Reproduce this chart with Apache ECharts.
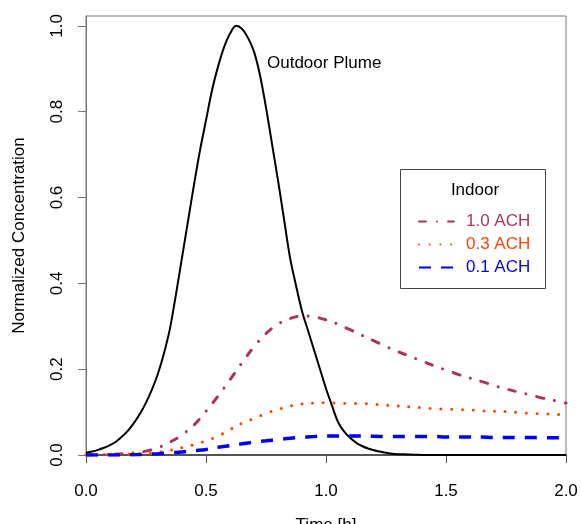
<!DOCTYPE html>
<html>
<head>
<meta charset="utf-8">
<script src="https://cdn.jsdelivr.net/npm/echarts@6/dist/echarts.min.js"></script>
<style>
  html, body { margin: 0; padding: 0; background: #fff; }
  #main { width: 581px; height: 524px; }
</style>
</head>
<body>
<div id="main"></div>
<script>
// time in hours, outdoor plume is read finer around its peak
var plumeTimes = [0, 0.025, 0.05, 0.075, 0.1, 0.125, 0.15, 0.175, 0.2, 0.225, 0.25, 0.275, 0.3, 0.325, 0.35, 0.375, 0.4, 0.425,
  0.45, 0.475, 0.5, 0.525, 0.55, 0.575, 0.6, 0.625, 0.65, 0.675, 0.7, 0.725, 0.75, 0.775, 0.8, 0.825, 0.85, 0.875, 0.9,
  0.925, 0.95, 0.975, 1.0, 1.025, 1.05, 1.075, 1.1, 1.125, 1.15, 1.175, 1.2, 1.225, 1.25, 1.275, 1.3, 1.325, 1.35, 1.375, 1.4,
  1.5, 1.6, 1.7, 1.8, 1.9, 2.0];
var outdoor = [0.005, 0.008, 0.012, 0.017, 0.023, 0.031, 0.043, 0.057, 0.075, 0.096, 0.122, 0.153, 0.19, 0.237, 0.295, 0.375, 0.46, 0.545,
  0.63, 0.71, 0.78, 0.85, 0.905, 0.95, 0.982, 1.0, 0.993, 0.972, 0.94, 0.885, 0.81, 0.725, 0.64, 0.55, 0.46, 0.395, 0.335,
  0.29, 0.245, 0.2, 0.155, 0.115, 0.077, 0.055, 0.04, 0.029, 0.021, 0.015, 0.011, 0.008, 0.005, 0.003, 0.002, 0.0015, 0.001, 0.0005, 0,
  0, 0, 0, 0, 0, 0];
var times = [0, 0.05, 0.1, 0.15, 0.2, 0.25, 0.3, 0.35, 0.4, 0.45, 0.5, 0.55, 0.6, 0.65, 0.7, 0.75, 0.8, 0.85, 0.9, 0.95,
  1.0, 1.05, 1.1, 1.15, 1.2, 1.25, 1.3, 1.35, 1.4, 1.45, 1.5, 1.55, 1.6, 1.65, 1.7, 1.75, 1.8, 1.85, 1.9, 1.95, 2.0];
var ach10 = [0, 0.0005, 0.001, 0.003, 0.005, 0.009, 0.017, 0.03, 0.047, 0.07, 0.102, 0.137, 0.175, 0.215, 0.252, 0.283, 0.305, 0.318, 0.324, 0.322,
  0.315, 0.305, 0.292, 0.279, 0.266, 0.253, 0.241, 0.23, 0.219, 0.208, 0.198, 0.188, 0.179, 0.171, 0.162, 0.154, 0.147, 0.14, 0.133, 0.127, 0.121];
var ach03 = [0, 0.0002, 0.0005, 0.001, 0.002, 0.003, 0.006, 0.011, 0.017, 0.024, 0.033, 0.044, 0.059, 0.074, 0.085, 0.097, 0.106, 0.114, 0.119, 0.121,
  0.122, 0.121, 0.12, 0.12, 0.118, 0.116, 0.114, 0.112, 0.11, 0.108, 0.107, 0.106, 0.105, 0.103, 0.102, 0.101, 0.099, 0.097, 0.096, 0.095, 0.093];
var ach01 = [0, 0, 0.0001, 0.0003, 0.0008, 0.0015, 0.003, 0.005, 0.007, 0.01, 0.013, 0.018, 0.022, 0.026, 0.03, 0.033, 0.036, 0.039, 0.041, 0.043,
  0.044, 0.044, 0.044, 0.044, 0.0435, 0.043, 0.043, 0.043, 0.043, 0.043, 0.042, 0.042, 0.042, 0.042, 0.041, 0.041, 0.041, 0.041, 0.04, 0.04, 0.04];
var yTicks = [0, 0.2, 0.4, 0.6, 0.8, 1.0];
var seriesNames = ['1.0 ACH', '0.3 ACH', '0.1 ACH'];
var seriesColors = ['#B03060', '#FF4500', '#0000FF'];

function pairs(xs, vals) {
  return xs.map(function (t, i) { return [t, vals[i]]; });
}

var font = 'Liberation Sans, Arial, sans-serif';
var chart = echarts.init(document.getElementById('main'), null, { renderer: 'canvas' });

var option = {
  animation: false,
  grid: {
    left: 86, right: 15, top: 16, bottom: 69,
    outerBoundsMode: 'none', containLabel: false,
    show: true, borderColor: '#777', borderWidth: 1
  },
  xAxis: {
    type: 'value', min: 0, max: 2, interval: 0.5,
    name: 'Time [h]', nameLocation: 'middle', nameGap: 62,
    nameTextStyle: { fontFamily: font, fontSize: 17, color: '#000' },
    axisLine: { lineStyle: { color: '#333', width: 1.5 } },
    axisTick: { length: 8, lineStyle: { color: '#555' } },
    axisLabel: { fontFamily: font, fontSize: 17, color: '#000', margin: 28,
      formatter: function (v) { return v.toFixed(1); } },
    splitLine: { show: false }
  },
  yAxis: {
    type: 'value', min: 0, max: 1.023,
    name: 'Normalized Concentration', nameLocation: 'middle', nameGap: 58,
    nameTextStyle: { fontFamily: font, fontSize: 17, color: '#000' },
    axisLine: { show: true, lineStyle: { color: '#777' } },
    axisTick: { length: 8, customValues: yTicks, lineStyle: { color: '#777' } },
    axisLabel: { fontFamily: font, fontSize: 17, color: '#000', margin: 20, rotate: 90,
      customValues: yTicks,
      formatter: function (v) { return v.toFixed(1); } },
    splitLine: { show: false }
  },
  legend: {
    orient: 'vertical', left: 413, top: 208, z: 6,
    itemWidth: 35, itemHeight: 14, itemGap: 6,
    itemStyle: { opacity: 0 },
    data: seriesNames.map(function (n, i) {
      return { name: n, textStyle: { color: seriesColors[i] } };
    }),
    textStyle: { fontFamily: font, fontSize: 17, lineHeight: 17, padding: [0, 0, 0, 7] }
  },
  graphic: [
    { type: 'rect', shape: { x: 400.5, y: 169.5, width: 145, height: 119 },
      style: { fill: '#fff', stroke: '#444', lineWidth: 1 }, z: 3 },
    { type: 'text', x: 475, y: 190, z: 7,
      style: { text: 'Indoor', font: '17px ' + font, fill: '#000', textAlign: 'center', textVerticalAlign: 'middle' } },
    { type: 'text', x: 267, y: 63, z: 7,
      style: { text: 'Outdoor Plume', font: '17px ' + font, fill: '#000', textAlign: 'left', textVerticalAlign: 'middle' } }
  ],
  series: [
    {
      name: 'Outdoor Plume', type: 'line', data: pairs(plumeTimes, outdoor), smooth: 0.3, symbol: 'none',
      lineStyle: { color: '#000', width: 2 }, z: 2
    },
    {
      name: seriesNames[0], type: 'line', data: pairs(times, ach10), smooth: 0.4, symbol: 'none',
      itemStyle: { color: seriesColors[0] },
      lineStyle: { color: seriesColors[0], width: 3, type: [7, 11, 0.01, 11], cap: 'round' }
    },
    {
      name: seriesNames[1], type: 'line', data: pairs(times, ach03), smooth: 0.4, symbol: 'none',
      itemStyle: { color: seriesColors[1] },
      lineStyle: { color: seriesColors[1], width: 3, type: [0.01, 10.7], cap: 'round' }
    },
    {
      name: seriesNames[2], type: 'line', data: pairs(times, ach01), smooth: 0.4, symbol: 'none',
      itemStyle: { color: seriesColors[2] },
      lineStyle: { color: seriesColors[2], width: 3.5, type: [12, 10] }
    }
  ]
};
chart.setOption(option);
</script>
</body>
</html>
